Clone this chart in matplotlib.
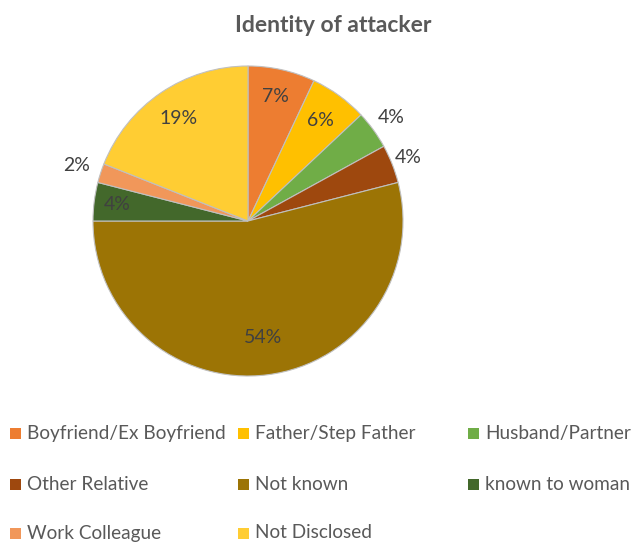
import matplotlib
matplotlib.use("Agg")
import matplotlib.pyplot as plt
from matplotlib.patches import Rectangle
import numpy as np

plt.rcParams['font.family'] = ['Lato', 'DejaVu Sans']

# data
categories = ['Boyfriend/Ex Boyfriend', 'Father/Step Father', 'Husband/Partner',
              'Other Relative', 'Not known', 'known to woman',
              'Work Colleague', 'Not Disclosed']
shares = [7, 6, 4, 4, 54, 4, 2, 19]
colors = ['#ED7D31', '#FFC000', '#70AD47', '#9E480E',
          '#9C7405', '#43682B', '#F1975A', '#FFCD33']
# label distance from centre (fraction of radius)
label_dist = [0.82, 0.80, 1.14, 1.11, 0.76, 0.85, 1.16, 0.80]

W, H = 634, 544
fig = plt.figure(figsize=(W / 100, H / 100), dpi=100)

cx, cy, r = 248, 221, 155
ax = fig.add_axes([(cx - r) / W, (H - cy - r) / H, 2 * r / W, 2 * r / H])

wedges, texts = ax.pie(shares, colors=colors, startangle=90, counterclock=False,
                       radius=1, wedgeprops=dict(edgecolor='#c0c0c0', linewidth=0.8))
ax.set_xlim(-1, 1)
ax.set_ylim(-1, 1)
ax.set_aspect('equal')
ax.axis('off')

for w, v, d in zip(wedges, shares, label_dist):
    ang = np.deg2rad((w.theta1 + w.theta2) / 2)
    ax.text(d * np.cos(ang), d * np.sin(ang), f'{v}%', ha='center', va='center',
            fontsize=14, color='#404040')

fig.text(333 / W, 1 - 25 / H, 'Identity of attacker', ha='center', va='center',
         fontsize=16.5, fontweight='bold', color='#595959')

# legend, row-major like the original
col_x = [10, 238, 468]
row_y = [433, 484, 533]
for i, (lab, c) in enumerate(zip(categories, colors)):
    x = col_x[i % 3]
    y = row_y[i // 3]
    fig.patches.append(Rectangle((x / W, (H - y - 5.5) / H), 11 / W, 11 / H,
                                 facecolor=c, edgecolor='none',
                                 transform=fig.transFigure, figure=fig))
    fig.text((x + 17) / W, 1 - y / H, lab, ha='left', va='center',
             fontsize=13.7, color='#595959')

fig.savefig('out.png', dpi=100, facecolor='white')
